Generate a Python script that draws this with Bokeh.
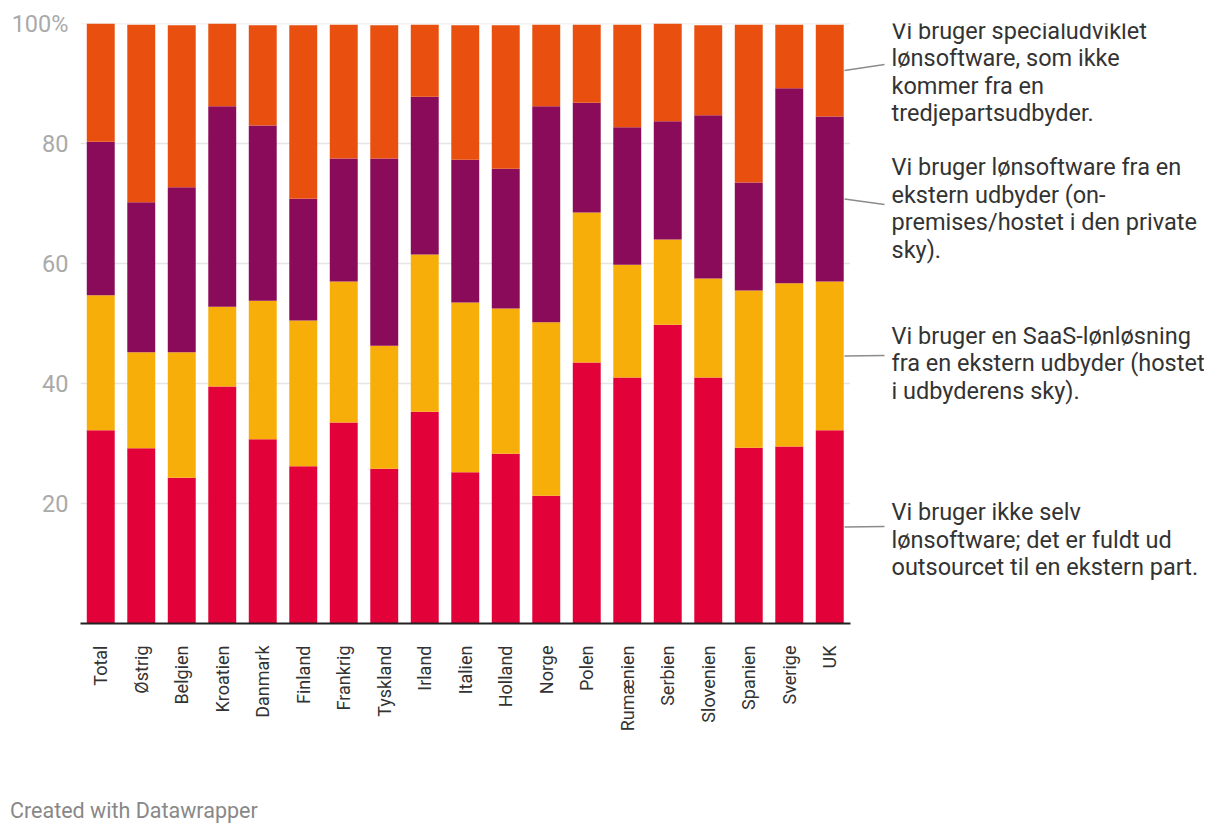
from bokeh.plotting import figure
from bokeh.models import FixedTicker, Label, Arrow, Range1d, Div
from bokeh.layouts import column
from bokeh.embed import file_html
from bokeh.resources import INLINE
import math

countries = ["Total", "Østrig", "Belgien", "Kroatien", "Danmark", "Finland", "Frankrig",
             "Tyskland", "Irland", "Italien", "Holland", "Norge", "Polen", "Rumænien",
             "Serbien", "Slovenien", "Spanien", "Sverige", "UK"]

outsourced = [32.2, 29.2, 24.3, 39.5, 30.7, 26.2, 33.5, 25.8, 35.3, 25.2, 28.3, 21.3, 43.5, 41.0, 49.8, 41.0, 29.3, 29.5, 32.2]
saas       = [22.5, 16.0, 20.9, 13.3, 23.1, 24.3, 23.5, 20.5, 26.2, 28.3, 24.2, 28.9, 25.0, 18.8, 14.2, 16.5, 26.2, 27.2, 24.8]
onprem     = [25.6, 25.0, 27.5, 33.4, 29.2, 20.3, 20.5, 31.2, 26.3, 23.8, 23.3, 36.0, 18.3, 22.9, 19.7, 27.2, 18.0, 32.5, 27.5]
custom     = [19.7, 29.6, 27.0, 13.8, 16.7, 28.9, 22.3, 22.2, 12.0, 22.4, 23.9, 13.6, 13.0, 17.1, 16.3, 15.0, 26.3, 10.6, 15.3]

series_keys = ["outsourced", "saas", "onprem", "custom"]
series_labels = [
    "Vi bruger ikke selv\nlønsoftware; det er fuldt ud\noutsourcet til en ekstern part.",
    "Vi bruger en SaaS-lønløsning\nfra en ekstern udbyder (hostet\ni udbyderens sky).",
    "Vi bruger lønsoftware fra en\nekstern udbyder (on-\npremises/hostet i den private\nsky).",
    "Vi bruger specialudviklet\nlønsoftware, som ikke\nkommer fra en\ntredjepartsudbyder.",
]
colors = ["#e3013a", "#f8ae08", "#8a0b59", "#e94f0f"]

y_ticks = [20, 40, 60, 80, 100]
y_tick_labels = {100: "100%"}
source_note = "Created with Datawrapper"

positions = list(range(len(countries)))
data = dict(pos=positions, outsourced=outsourced, saas=saas, onprem=onprem, custom=custom)

FONT = "Roboto"

# layout geometry (page pixels)
FRAME_LEFT, FRAME_TOP, FRAME_H = 80, 23, 600
FIG_W, FIG_H = 1204, 786
FOOT_H = 44
STEP_X = 40.5
PX_PER_UNIT = FRAME_H / 100.0
ZERO_Y = FRAME_TOP + FRAME_H
x_span = (FIG_W - FRAME_LEFT) / STEP_X

def dx(page_x):
    return (page_x - FRAME_LEFT) / STEP_X - 0.5
def dy(page_y):
    return (ZERO_Y - page_y) / PX_PER_UNIT

p = figure(x_range=Range1d(-0.5, -0.5 + x_span), y_range=Range1d(0, 100),
           width=FIG_W, height=FIG_H, output_backend="svg", toolbar_location=None,
           min_border_left=FRAME_LEFT, min_border_right=0, min_border_top=FRAME_TOP,
           min_border_bottom=FIG_H - FRAME_TOP - FRAME_H)
p.outline_line_color = None
p.background_fill_color = "white"
p.border_fill_color = "white"
p.xgrid.grid_line_color = None
p.ygrid.grid_line_color = None

# gridlines limited to the bar area
n = len(countries)
p.segment(x0=[-0.5] * len(y_ticks), x1=[n - 0.5] * len(y_ticks), y0=y_ticks, y1=y_ticks,
          line_color="#e5e5e5", line_width=1.5)

p.vbar_stack(series_keys, x="pos", width=0.69, color=colors, line_color=None, source=data)

# y axis
p.yaxis.ticker = FixedTicker(ticks=y_ticks)
p.yaxis.major_label_overrides = dict(y_tick_labels)
p.yaxis.axis_line_color = None
p.yaxis.major_tick_line_color = None
p.yaxis.minor_tick_line_color = None
p.yaxis.major_label_text_font = FONT
p.yaxis.major_label_text_font_size = "23.5px"
p.yaxis.major_label_text_color = "#aaaaaa"
p.yaxis.major_label_standoff = 6

# x axis
p.xaxis.ticker = FixedTicker(ticks=positions)
p.xaxis.major_label_overrides = {i: c for i, c in zip(positions, countries)}
p.xaxis.bounds = (-0.5, n - 0.5)
p.xaxis.axis_line_color = "#222222"
p.xaxis.axis_line_width = 2
p.xaxis.major_tick_line_color = None
p.xaxis.minor_tick_line_color = None
p.xaxis.major_label_orientation = math.pi / 2
p.xaxis.major_label_text_font = FONT
p.xaxis.major_label_text_font_size = "18px"
p.xaxis.major_label_text_color = "#333333"
p.xaxis.major_label_standoff = 16

# leader lines from the last bar's segment mids to the label blocks
last = [outsourced[-1], saas[-1], onprem[-1], custom[-1]]
bottoms = [0, last[0], last[0] + last[1], last[0] + last[1] + last[2]]
label_first_baselines = [511.7, 335.0, 166.7, 30.0]
line_ends = [526, 355, 204, 64]
LINE_H = 27.6
for i in range(4):
    mid = bottoms[i] + last[i] / 2
    p.add_layout(Arrow(end=None, start=None, x_start=dx(844), y_start=mid,
                       x_end=dx(884), y_end=dy(line_ends[i]),
                       line_color="#8c8c8c", line_width=1.5))
    for j, line in enumerate(series_labels[i].split("\n")):
        p.add_layout(Label(x=dx(891), y=dy(label_first_baselines[i] + j * LINE_H),
                           text=line, text_font=FONT, text_font_size="23.5px",
                           text_color="#333333", text_baseline="alphabetic",
                           text_align="left"))

# footer note
footer = Div(text=source_note, width=FIG_W, height=FOOT_H, margin=(0, 0, 0, 0),
             styles={"font-family": "Roboto", "font-size": "21.5px", "color": "#888888",
                     "padding-left": "10px", "padding-top": "13px", "line-height": "24px",
                     "box-sizing": "border-box"})

layout = column(p, footer, spacing=0)
open("out.html", "w").write(file_html(layout, INLINE))
